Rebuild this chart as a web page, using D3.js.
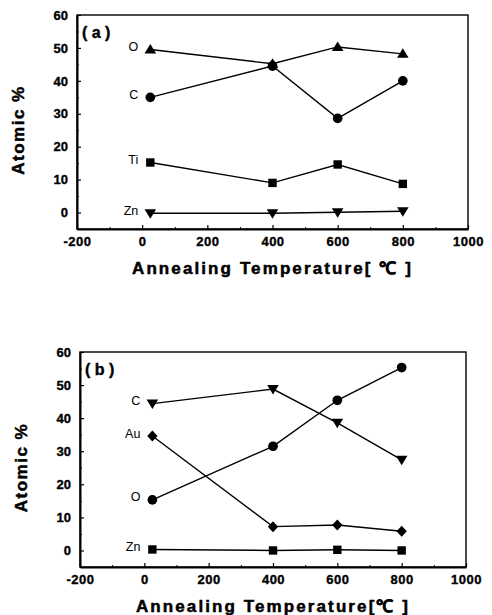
<!DOCTYPE html>
<html>
<head>
<meta charset="utf-8">
<script src="https://cdn.jsdelivr.net/npm/d3@7"></script>
<style>
  html, body { margin: 0; padding: 0; background: #fff; }
  svg { display: block; }
  text { font-family: "Liberation Sans", Arial, sans-serif; fill: #000; }
</style>
</head>
<body>
<svg id="chart" width="492" height="615"></svg>
<script>
// ---- data ----
const temperatures = [25, 400, 600, 800];
const xTicks = [-200, 0, 200, 400, 600, 800, 1000];
const yTicks = [0, 10, 20, 30, 40, 50, 60];

// panel (a)
const aO  = [49.5, 45.2, 50.3, 48.2];
const aC  = [35.0, 44.5, 28.6, 40.0];
const aTi = [15.2, 9.0, 14.6, 8.7];
const aZn = [-0.2, -0.2, 0.1, 0.4];

// panel (b)
const bC  = [44.4, 48.8, 38.6, 27.4];
const bAu = [34.6, 7.2, 7.7, 5.8];
const bO  = [15.3, 31.5, 45.4, 55.3];
const bZn = [0.3, 0.0, 0.2, 0.0];

const panels = [
  {
    tag: "( a )",
    box: {l: 77, r: 468, t: 15, b: 229},
    series: [
      {name: "O",  values: aO,  shape: "triUp"},
      {name: "C",  values: aC,  shape: "circle"},
      {name: "Ti", values: aTi, shape: "square"},
      {name: "Zn", values: aZn, shape: "triDown"}
    ],
    xTitle: "Annealing Temperature[ \u2103 ]"
  },
  {
    tag: "( b )",
    box: {l: 80, r: 466, t: 352, b: 567},
    series: [
      {name: "C",  values: bC,  shape: "triDown"},
      {name: "Au", values: bAu, shape: "diamond"},
      {name: "O",  values: bO,  shape: "circle"},
      {name: "Zn", values: bZn, shape: "square"}
    ],
    xTitle: "Annealing Temperature[\u2103 ]"
  }
];

const svg = d3.select("#chart");

function markerPath(shape) {
  switch (shape) {
    case "triUp":   return "M0,-5.5L5.8,4L-5.8,4Z";
    case "triDown": return "M0,5.5L5.8,-4L-5.8,-4Z";
    case "square":  return "M-4.2,-4.2H4.2V4.2H-4.2Z";
    case "diamond": return "M0,-5.5L5.2,0L0,5.5L-5.2,0Z";
    case "circle":  return d3.symbol(d3.symbolCircle, 74)();
  }
}

function heavy(sel, w) {
  sel.attr("font-weight", "bold").attr("stroke", "#000").attr("stroke-width", w).attr("fill", "#000");
}

panels.forEach(p => {
  const g = svg.append("g");
  const x = d3.scaleLinear().domain([-200, 1000]).range([p.box.l, p.box.r]);
  const y = d3.scaleLinear().domain([-5, 60]).range([p.box.b, p.box.t]);

  // frame
  g.append("rect")
    .attr("x", p.box.l).attr("y", p.box.t)
    .attr("width", p.box.r - p.box.l).attr("height", p.box.b - p.box.t)
    .attr("fill", "none").attr("stroke", "#000").attr("stroke-width", 1.4);

  // y axis (ticks inward)
  const yAxis = d3.axisLeft(y).tickValues(yTicks).tickFormat(d => String(d))
    .tickSizeInner(-4).tickSizeOuter(0).tickPadding(9);
  const ya = g.append("g").attr("transform", `translate(${p.box.l},0)`).call(yAxis);
  ya.select(".domain").attr("stroke-width", 2);
  heavy(ya.selectAll("text").attr("font-size", 13), 0.35);
  ya.selectAll(".tick line").attr("stroke-width", 1.2);
  const yMinor = d3.axisLeft(y).tickValues([-5, 5, 15, 25, 35, 45, 55]).tickSizeInner(-2).tickSizeOuter(0).tickFormat("");
  g.append("g").attr("transform", `translate(${p.box.l},0)`).call(yMinor).select(".domain").remove();

  // x axis (ticks inward)
  const xAxis = d3.axisBottom(x).tickValues(xTicks).tickFormat(d => String(d))
    .tickSizeInner(-4).tickSizeOuter(0).tickPadding(8);
  const xa = g.append("g").attr("transform", `translate(0,${p.box.b})`).call(xAxis);
  xa.select(".domain").attr("stroke-width", 2);
  heavy(xa.selectAll("text").attr("font-size", 13).attr("letter-spacing", 0.5), 0.35);
  xa.selectAll(".tick line").attr("stroke-width", 1.2);
  const xMinor = d3.axisBottom(x).tickValues([-100, 100, 300, 500, 700, 900]).tickSizeInner(-2).tickSizeOuter(0).tickFormat("");
  g.append("g").attr("transform", `translate(0,${p.box.b})`).call(xMinor).select(".domain").remove();

  // axis titles
  heavy(g.append("text")
    .attr("transform", `translate(${p.box.l - 53},${(p.box.t + p.box.b) / 2 + 8}) rotate(-90)`)
    .attr("text-anchor", "middle")
    .attr("font-size", 17).attr("letter-spacing", 1.5)
    .text("Atomic %"), 0.5);
  heavy(g.append("text")
    .attr("x", (p.box.l + p.box.r) / 2).attr("y", p.box.b + 45)
    .attr("text-anchor", "middle")
    .attr("font-size", 17).attr("letter-spacing", 2.1)
    .text(p.xTitle), 0.5);

  // panel tag
  heavy(g.append("text")
    .attr("x", p.box.l + 5).attr("y", p.box.t + 23)
    .attr("font-size", 16)
    .text(p.tag), 0.4);

  // series
  const line = d3.line().x((d, i) => x(temperatures[i])).y(d => y(d));
  p.series.forEach(s => {
    g.append("path").datum(s.values)
      .attr("d", line).attr("fill", "none").attr("stroke", "#000").attr("stroke-width", 1.4);
    g.selectAll(null).data(s.values).enter().append("path")
      .attr("d", markerPath(s.shape))
      .attr("transform", (d, i) => `translate(${x(temperatures[i])},${y(d)})`)
      .attr("fill", "#000");
    g.append("text")
      .attr("x", x(temperatures[0]) - 12).attr("y", y(s.values[0]) + 1.5)
      .attr("text-anchor", "end")
      .attr("font-size", 12.5)
      .attr("fill", "#000")
      .text(s.name);
  });
});
</script>
</body>
</html>
